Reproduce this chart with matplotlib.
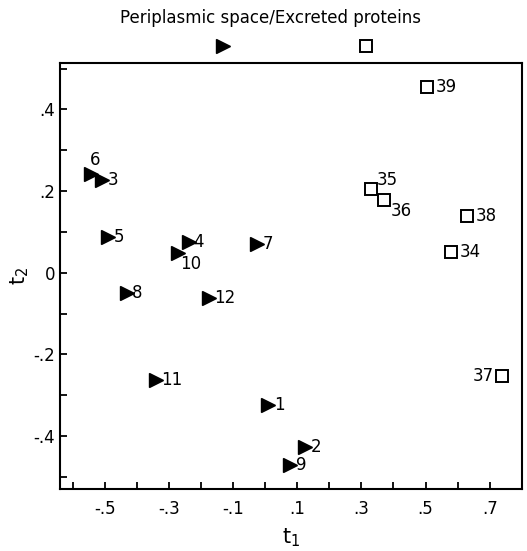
import matplotlib
matplotlib.use("Agg")
import matplotlib.pyplot as plt
from matplotlib.ticker import MultipleLocator, FixedLocator, FixedFormatter

# Periplasmic space proteins (filled triangles)
peri_ids = ["1", "2", "3", "4", "5", "6", "7", "8", "9", "10", "11", "12"]
peri_t1 = [0.009, 0.124, -0.51, -0.239, -0.49, -0.543, -0.025, -0.432, 0.078, -0.273, -0.342, -0.177]
peri_t2 = [-0.324, -0.426, 0.228, 0.076, 0.088, 0.243, 0.071, -0.049, -0.47, 0.049, -0.262, -0.061]

# Excreted proteins (open squares)
exc_ids = ["34", "35", "36", "37", "38", "39"]
exc_t1 = [0.58, 0.329, 0.37, 0.739, 0.63, 0.506]
exc_t2 = [0.051, 0.206, 0.179, -0.252, 0.14, 0.456]

xtick_vals = [-0.5, -0.3, -0.1, 0.1, 0.3, 0.5, 0.7]
xtick_labels = ["-.5", "-.3", "-.1", ".1", ".3", ".5", ".7"]
ytick_vals = [-0.4, -0.2, 0.0, 0.2, 0.4]
ytick_labels = ["-.4", "-.2", "0", ".2", ".4"]

# label offsets in points (dx, dy, ha, va)
peri_off = {
    "1": (4, 0, "left", "center"), "2": (4, 0, "left", "center"),
    "3": (4, 0, "left", "center"), "4": (3, 0, "left", "center"),
    "5": (4, 0, "left", "center"), "6": (-1, 3, "left", "bottom"),
    "7": (4, 0, "left", "center"), "8": (4, 0, "left", "center"),
    "9": (4, 0, "left", "center"), "10": (2, -2, "left", "top"),
    "11": (4, 0, "left", "center"), "12": (4, 0, "left", "center"),
}
exc_off = {
    "34": (6, 0, "left", "center"), "35": (4, 0, "left", "bottom"),
    "36": (5, -2, "left", "top"), "37": (-6, 0, "right", "center"),
    "38": (6, 0, "left", "center"), "39": (6, 0, "left", "center"),
}

plt.rcParams["font.family"] = ["DejaVu Sans"]
fig = plt.figure(figsize=(5.27, 5.51), dpi=100)
ax = fig.add_axes([0.114, 0.1125, 0.876, 0.774])

ax.plot(peri_t1, peri_t2, linestyle="none", marker=">", markersize=10,
        color="black")
ax.plot(exc_t1, exc_t2, linestyle="none", marker="s", markersize=9,
        markerfacecolor="white", markeredgecolor="black", markeredgewidth=1.4)

for lab, x, y in zip(peri_ids, peri_t1, peri_t2):
    dx, dy, ha, va = peri_off[lab]
    ax.annotate(lab, (x, y), xytext=(dx, dy), textcoords="offset points",
                ha=ha, va=va, fontsize=12)
for lab, x, y in zip(exc_ids, exc_t1, exc_t2):
    dx, dy, ha, va = exc_off[lab]
    ax.annotate(lab, (x, y), xytext=(dx, dy), textcoords="offset points",
                ha=ha, va=va, fontsize=12)

ax.set_xlim(-0.64, 0.80)
ax.set_ylim(-0.53, 0.515)
ax.xaxis.set_major_locator(FixedLocator(xtick_vals))
ax.xaxis.set_major_formatter(FixedFormatter(xtick_labels))
ax.xaxis.set_minor_locator(MultipleLocator(0.1))
ax.yaxis.set_major_locator(FixedLocator(ytick_vals))
ax.yaxis.set_major_formatter(FixedFormatter(ytick_labels))
ax.yaxis.set_minor_locator(MultipleLocator(0.1))
ax.tick_params(which="both", direction="in", length=5, width=1.3,
               labelsize=12, top=False, right=False)
ax.tick_params(axis="x", pad=8)
for s in ax.spines.values():
    s.set_linewidth(1.5)

ax.set_xlabel("t$_1$", fontsize=15, labelpad=6)
ax.set_ylabel("t$_2$", fontsize=15, labelpad=2)

# legend-like header above the plot
fig.text(0.513, 0.967, "Periplasmic space/Excreted proteins", ha="center",
         va="center", fontsize=12)
fig.lines.append(plt.Line2D([223 / 527], [1 - 46 / 551], transform=fig.transFigure,
                            marker=">", markersize=10, color="black",
                            linestyle="none"))
fig.lines.append(plt.Line2D([366 / 527], [1 - 46 / 551], transform=fig.transFigure,
                            marker="s", markersize=9, markerfacecolor="white",
                            markeredgecolor="black", markeredgewidth=1.4,
                            linestyle="none"))

fig.savefig("out.png", dpi=100)
